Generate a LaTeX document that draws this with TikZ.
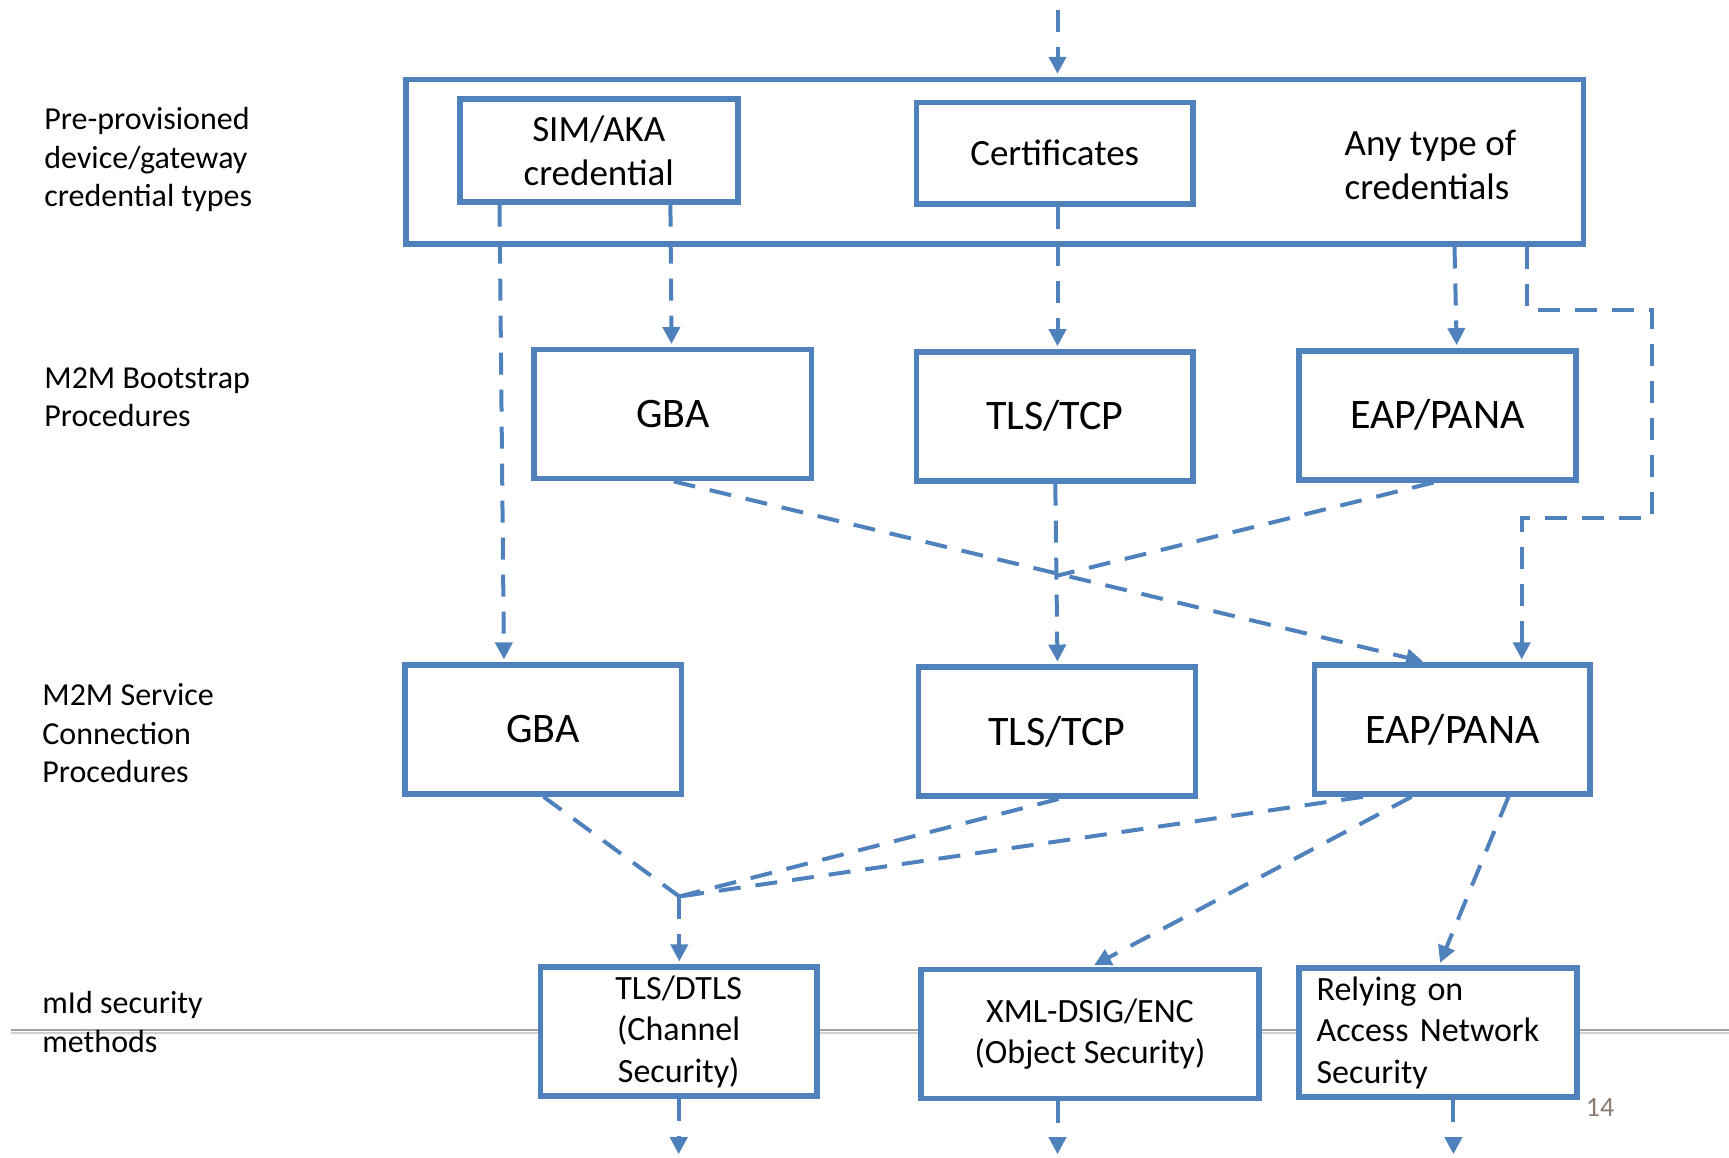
\documentclass[tikz,border=0pt]{standalone}
\usepackage{fontspec}
\setmainfont{Carlito}
\usetikzlibrary{arrows.meta}
\definecolor{boxblue}{RGB}{79,129,189}
\definecolor{pagenum}{RGB}{140,123,112}
\definecolor{rulegray}{RGB}{160,160,160}
\definecolor{rulelight}{RGB}{208,208,208}

\begin{document}
\begin{tikzpicture}[x=0.5pt,y=-0.5pt,
  box/.style={draw=boxblue, line width=2.8pt, fill=white, inner sep=0pt,
    align=center, minimum width=138.4pt, minimum height=64.5pt},
  credfont/.style={font=\fontsize{18.5}{22}\selectfont},
  procfont/.style={font=\fontsize{21}{25}\selectfont},
  methfont/.style={font=\fontsize{17}{20.7}\selectfont},
  conn/.style={draw=boxblue, line width=2pt, dash pattern=on 11pt off 7.5pt},
  arr/.style={conn, -{Triangle[width=8.5pt,length=8.5pt]}, shorten >=1.4pt},
  side/.style={anchor=west, align=left, inner sep=0pt,
    font=\fontsize{16}{19.2}\selectfont}
]
\useasboundingbox (0,0) rectangle (1729,1157);

% separator rule behind the last row
\draw[rulegray, line width=1.3pt] (11,1030) -- (1729,1030);
\draw[rulelight, line width=0.9pt] (11,1032.6) -- (1729,1032.6);

% row labels
\node[side] (lab1) at (44,159.6) {Pre-provisioned\\device/gateway\\credential types};
\node[side] (lab2) at (44,397) {M2M Bootstrap\\Procedures};
\node[side] (lab3) at (42,733.3) {M2M Service\\Connection\\Procedures};
\node[side] (lab4) at (42,1022) {mId security\\methods};

% credential types
\node[box, minimum width=588.75pt, minimum height=82.15pt] (outer) at (994.75,161.55) {};
\node[box, credfont, minimum width=138.95pt, minimum height=51.3pt] (sim) at (598.75,150.5) {SIM/AKA\\credential};
\node[box, credfont, minimum height=50.75pt] (cert) at (1054.7,153.25) {Certificates};
\node[credfont, anchor=west, align=left, inner sep=0pt] (any) at (1344.2,165.4) {Any type of\\credentials};

% bootstrap procedures
\node[box, procfont, minimum width=138.95pt] (gba2) at (672.65,414.1) {GBA};
\node[box, procfont] (tls2) at (1054.7,416.3) {TLS/TCP};
\node[box, procfont] (eap2) at (1437.4,415.2) {EAP/PANA};

% service connection procedures
\node[box, procfont] (gba3) at (543.1,729.5) {GBA};
\node[box, procfont] (tls3) at (1056.9,731.65) {TLS/TCP};
\node[box, procfont, minimum width=137.8pt] (eap3) at (1452.2,729.5) {EAP/PANA};

% mId security methods
\node[box, methfont] (tlsd) at (678.7,1031.55) {TLS/DTLS\\(Channel\\Security)};
\node[box, methfont, minimum width=169.25pt] (xml) at (1090,1033.8) {XML-DSIG/ENC\\(Object Security)};
\node[box, methfont, align=left, text width=121.4pt, inner xsep=8.8pt, minimum width=138.95pt] (rely) at (1438,1032.7) {Relying on\\Access Network\\Security};

\node[text=pagenum, font=\fontsize{14}{16}\selectfont] (pg) at (1600,1107) {14};

% junctions and free ends
\coordinate (src) at (1057.5,10);
\coordinate (r1) at (1651.8,309.9);
\coordinate (r2) at (1521.7,518.3);
\coordinate (m1) at (1057.5,575.6);
\coordinate (m2) at (679.3,896.5);
\coordinate (o1) at (678.7,1157);
\coordinate (o2) at (1057.5,1157);
\coordinate (o3) at (1453.4,1157);

% credentials to procedures
\draw[arr] (src) -- (outer.north -| src);
\draw[arr] (sim.south -| 499.5,0) -- (gba3.north -| 504,0);
\draw[arr] (sim.south -| 670.4,0) -- (gba2.north -| 671.5,0);
\draw[arr] (cert.south -| 1057.5,0) -- (tls2.north -| 1057.5,0);
\draw[arr] (outer.south -| 1454.5,0) -- (eap2.north -| 1456.7,0);
\draw[arr] (outer.south -| 1527.2,0) |- (r1) |- (r2) -- (eap3.north -| r2);

% bootstrap to service connection
\draw[arr] (gba2.south -| 673.7,0) -- (eap3.north -| 1425.8,0);
\draw[conn] (eap2.south -| 1433.5,0) -- (m1);
\draw[arr] (tls2.south -| 1055.3,0) -- (tls3.north -| 1057.5,0);

% service connection to security methods
\draw[conn] (gba3.south -| 543.6,0) -- (m2);
\draw[conn] (tls3.south -| 1058.6,0) -- (m2);
\draw[conn] (eap3.south -| 1363,0) -- (m2);
\draw[arr] (m2) -- (tlsd.north -| m2);
\draw[arr] (eap3.south -| 1411.5,0) -- (xml.north -| 1091.7,0);
\draw[arr] (eap3.south -| 1508.5,0) -- (rely.north -| 1439,0);

% outgoing
\draw[arr] (tlsd.south -| o1) -- (o1);
\draw[arr] (xml.south -| o2) -- (o2);
\draw[arr] (rely.south -| o3) -- (o3);
\end{tikzpicture}
\end{document}
